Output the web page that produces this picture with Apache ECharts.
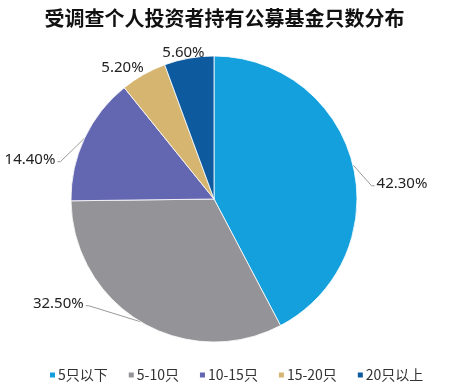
<!DOCTYPE html>
<html><head><meta charset="utf-8">
<script src="https://cdn.jsdelivr.net/npm/echarts@6/dist/echarts.min.js"></script>
<style>html,body{margin:0;padding:0;background:#fff}#c{width:449px;height:389px}</style>
</head><body><div id="c"></div>
<script>
const categories = ['5只以下', '5-10只', '10-15只', '15-20只', '20只以上'];
const values = [42.3, 32.5, 14.4, 5.2, 5.6];
const colors = ['#13a0dd', '#939398', '#6366b0', '#d6b570', '#0d5b9e'];
const labelShift = [[5, 21], [-42, -25], [-11, 25], [15, 0], [28, 2]];
const chart = echarts.init(document.getElementById('c'));
chart.setOption({
  animation: false,
  title: {
    text: '受调查个人投资者持有公募基金只数分布',
    left: 'center', top: 3,
    textStyle: {fontFamily: 'Noto Sans CJK SC', fontWeight: 'bold', fontSize: 20, color: '#111'}
  },
  color: colors,
  legend: {
    bottom: 2, left: 43, itemWidth: 7, itemHeight: 7, itemGap: 19,
    icon: 'rect',
    textStyle: {fontFamily: 'Noto Sans CJK SC', fontSize: 14, color: '#333', padding: [0,0,0,-3]},
    data: categories
  },
  series: [{
    type: 'pie',
    center: [214, 199],
    radius: [0, 143],
    startAngle: 90,
    clockwise: true,
    itemStyle: {borderColor: '#fff', borderWidth: 0.8},
    label: {
      formatter: p => p.value.toFixed(2) + '%',
      fontFamily: 'Noto Sans', fontSize: 15, color: '#222'
    },
    labelLine: {length: 8, length2: 6, lineStyle: {color: '#999', width: 1}},
    labelLayout: p => {
      const [dx, dy] = labelShift[p.dataIndex];
      const out = {dx, dy};
      const pts = p.labelLinePoints;
      if (pts && p.dataIndex < 3) {
        const r = p.labelRect;
        const cy = r.y + dy + r.height / 2 + 2;
        const right = pts[0][0] > 214;
        const ex = right ? r.x + dx - 2 : r.x + dx + r.width + 2;
        const elx = right ? ex - 3 : ex + 3;
        out.labelLinePoints = [pts[0], [elx, cy], [ex, cy]];
      }
      return out;
    },
    data: categories.map((c, i) => ({name: c, value: values[i],
      labelLine: {show: i < 3}}))
  }]
});
</script></body></html>
